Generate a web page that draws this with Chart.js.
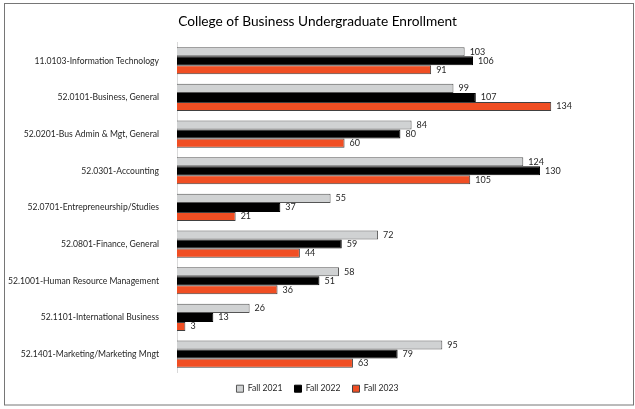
<!DOCTYPE html>
<html>
<head>
<meta charset="utf-8">
<script src="https://cdn.jsdelivr.net/npm/chart.js@4"></script>
<style>
  body { margin: 0; background: #fff; }
  #wrap { width: 635px; height: 409px; }
</style>
</head>
<body>
<div id="wrap"><canvas id="chart" width="635" height="409"></canvas></div>
<script>
const programs = [
  '11.0103-Information Technology',
  '52.0101-Business, General',
  '52.0201-Bus Admin & Mgt, General',
  '52.0301-Accounting',
  '52.0701-Entrepreneurship/Studies',
  '52.0801-Finance, General',
  '52.1001-Human Resource Management',
  '52.1101-International Business',
  '52.1401-Marketing/Marketing Mngt'
];
const fall2021 = [103, 99, 84, 124, 55, 72, 58, 26, 95];
const fall2022 = [106, 107, 80, 130, 37, 59, 51, 13, 79];
const fall2023 = [91, 134, 60, 105, 21, 44, 36, 3, 63];

const FONT = 'Lato, "Liberation Sans", sans-serif';

// value labels at the end of each bar
const barLabels = {
  id: 'barLabels',
  afterDatasetsDraw(chart) {
    const ctx = chart.ctx;
    ctx.save();
    ctx.font = '9px ' + FONT;
    ctx.fillStyle = '#262626';
    ctx.textBaseline = 'middle';
    ctx.textAlign = 'left';
    chart.data.datasets.forEach((ds, i) => {
      chart.getDatasetMeta(i).data.forEach((bar, j) => {
        ctx.fillText(ds.data[j], bar.x + 5, bar.y);
      });
    });
    ctx.restore();
  }
};

// outer frame
const frame = {
  id: 'frame',
  beforeDraw(chart) {
    const ctx = chart.ctx;
    ctx.save();
    ctx.fillStyle = '#fff';
    ctx.fillRect(0, 0, chart.width, chart.height);
    ctx.strokeStyle = '#767676';
    ctx.lineWidth = 1;
    ctx.strokeRect(4.5, 3.5, 629, 401.5);
    ctx.restore();
  }
};

new Chart(document.getElementById('chart'), {
  type: 'bar',
  data: {
    labels: programs,
    datasets: [
      { label: 'Fall 2021', data: fall2021, backgroundColor: '#d0d2d3', borderColor: '#555555', borderWidth: 1 },
      { label: 'Fall 2022', data: fall2022, backgroundColor: '#000000', borderColor: '#000000', borderWidth: 1 },
      { label: 'Fall 2023', data: fall2023, backgroundColor: '#f04e23', borderColor: '#404040', borderWidth: 1 }
    ]
  },
  options: {
    indexAxis: 'y',
    responsive: false,
    animation: false,
    categoryPercentage: 0.74,
    barPercentage: 1,
    layout: { padding: { left: 0, right: 0, top: 6, bottom: 6 } },
    scales: {
      x: {
        display: false,
        min: 0,
        max: 164
      },
      y: {
        afterFit(scale) { scale.width = 177; },
        grid: { display: false },
        border: { display: true, color: '#d9d9d9' },
        ticks: { color: '#262626', padding: 10, font: { family: FONT, size: 8.6 } }
      }
    },
    plugins: {
      title: {
        display: true,
        text: 'College of Business Undergraduate Enrollment',
        color: '#000',
        font: { family: FONT, size: 13.7, weight: 'normal' },
        padding: { top: 7, bottom: 13 }
      },
      legend: {
        position: 'bottom',
        labels: {
          color: '#262626',
          boxWidth: 7,
          boxHeight: 7,
          padding: 12,
          font: { family: FONT, size: 8.6 }
        }
      },
      tooltip: { enabled: false }
    }
  },
  plugins: [frame, barLabels]
});
</script>
</body>
</html>
